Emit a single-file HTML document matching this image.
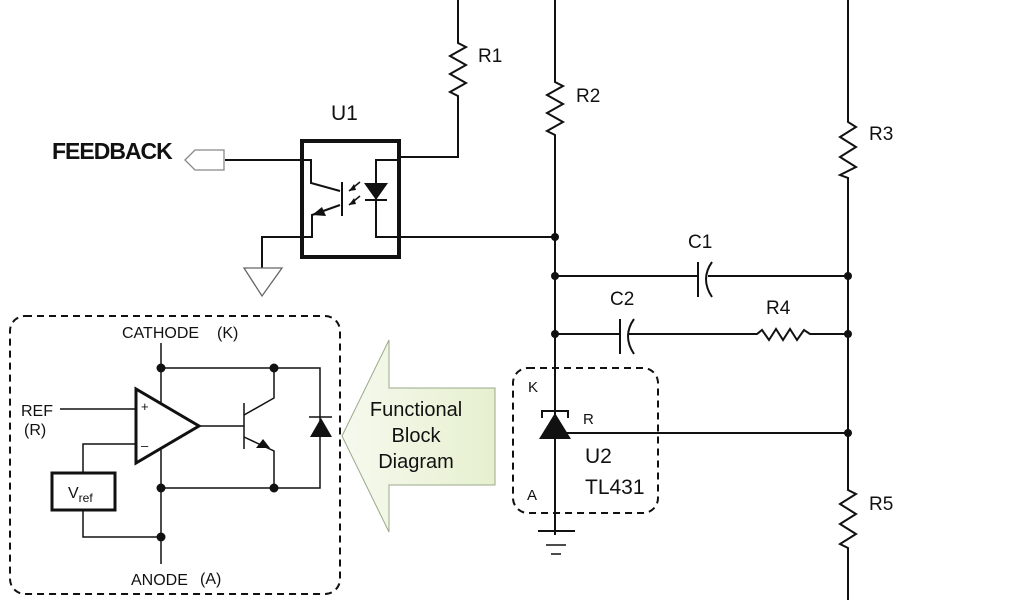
<!DOCTYPE html>
<html><head><meta charset="utf-8"><style>
html,body{margin:0;padding:0;background:#fff;width:1024px;height:600px;overflow:hidden}
svg{display:block}
text{font-family:"Liberation Sans",sans-serif;fill:#111}
</style></head><body>
<svg width="1024" height="600" viewBox="0 0 1024 600" xmlns="http://www.w3.org/2000/svg">
<defs>
<linearGradient id="g" x1="0" x2="1" y1="0" y2="0">
<stop offset="0" stop-color="#f6f9ee"/><stop offset="1" stop-color="#e6f0cf"/>
</linearGradient>
</defs>
<g fill="none" stroke="#111" stroke-width="2">
<polyline points="458,0 458,43 466,47 450,56 466,65 450,74 466,83 450,92 458,96 458,157 400,157"/>
<polyline points="555,0 555,82 563,86 547,95 563,104 547,113 563,122 547,131 555,135 555,535"/>
<polyline points="848,0 848,122 856,127 840,137 856,147 840,157 856,167 840,175 848,178 848,490 856,494 840,504 856,514 840,524 856,534 840,544 848,548 848,600"/>
<rect x="302" y="141" width="97" height="116" stroke-width="4"/>
<polyline points="225,160 311,160 311,183 340,191"/>
<polygon points="185,160 195,150 224,150 224,170 195,170" stroke="#888" stroke-width="1.3"/>
<line x1="342" y1="182" x2="342" y2="216" stroke-width="2"/>
<polyline points="340,205 312,215 312,237 262,237 262,268"/>
<polygon points="244,268 282,268 262,296" stroke="#666" stroke-width="1.3"/>
<polyline points="400,160 376,160 376,237 555,237"/>
<line x1="365" y1="200" x2="387" y2="200"/>
<line x1="360" y1="182" x2="349" y2="191" stroke-width="1.5"/>
<line x1="360" y1="196" x2="349" y2="205" stroke-width="1.5"/>
<line x1="555" y1="276" x2="698" y2="276"/>
<line x1="708" y1="276" x2="848" y2="276"/>
<line x1="698" y1="262" x2="698" y2="297"/>
<path d="M712,262 Q700,279 712,297"/>
<line x1="555" y1="334" x2="620" y2="334"/>
<line x1="620" y1="319" x2="620" y2="354"/>
<path d="M634,319 Q622,336 634,354"/>
<polyline points="628,334 757,334 762,330 769,340 776,329 783,340 790,329 797,340 804,330 810,334 848,334"/>
<line x1="555" y1="433" x2="848" y2="433"/>
<polyline points="542,418 542,411 568,411 568,418"/>
<line x1="538" y1="531" x2="575" y2="531"/>
<line x1="546" y1="545" x2="566" y2="545" stroke-width="1.5"/>
<line x1="551" y1="554" x2="561" y2="554" stroke-width="1.5"/>
<rect x="513" y="368" width="145" height="145" rx="15" stroke-dasharray="7,5"/>
<rect x="10" y="316" width="330" height="278" rx="15" stroke-dasharray="7,5"/>
<line x1="161" y1="343" x2="161" y2="564" stroke-width="1.5"/>
<polyline points="161,368 320,368 320,488 161,488" stroke-width="1.5"/>
<polygon points="136,389 136,463 199,426" stroke-width="3" fill="#fff"/>
<line x1="60" y1="409" x2="136" y2="409" stroke-width="1.5"/>
<polyline points="136,444 83,444 83,473" stroke-width="1.5"/>
<rect x="52" y="473" width="63" height="37" stroke-width="3"/>
<polyline points="83,510 83,537 161,537" stroke-width="1.5"/>
<line x1="199" y1="426" x2="244" y2="426" stroke-width="1.5"/>
<line x1="244" y1="403" x2="244" y2="449" stroke-width="1.5"/>
<polyline points="244,415 274,398 274,368" stroke-width="1.5"/>
<polyline points="244,437 274,451 274,488" stroke-width="1.5"/>
<line x1="309" y1="417" x2="332" y2="417" stroke-width="1.5"/>
</g>
<g fill="#111">
<polygon points="364,183 388,183 376,200"/>
<polygon points="349,191 354,184 356,190"/>
<polygon points="349,205 354,198 356,204"/>
<polygon points="312,215 322,207 326,216"/>
<polygon points="539,439 571,439 555,413"/>
<polygon points="310,437 332,437 321,418"/>
<polygon points="256,448 270,448 263,439"/>
<circle cx="555" cy="237" r="4"/><circle cx="555" cy="276" r="4"/><circle cx="555" cy="334" r="4"/>
<circle cx="848" cy="276" r="4"/><circle cx="848" cy="334" r="4"/><circle cx="848" cy="433" r="4"/>
<circle cx="161" cy="368" r="4.5"/><circle cx="274" cy="368" r="4.5"/><circle cx="161" cy="488" r="4.5"/><circle cx="274" cy="488" r="4.5"/><circle cx="161" cy="537" r="4.5"/>
</g>
<polygon points="389,340 389,388 495,388 495,485 389,485 389,532 342,436" fill="url(#g)" stroke="#9aa88a" stroke-width="1"/>
<text x="52" y="159" font-size="23" font-weight="bold" letter-spacing="-1">FEEDBACK</text>
<text x="331" y="120" font-size="21">U1</text>
<text x="478" y="62" font-size="19">R1</text>
<text x="576" y="102" font-size="19">R2</text>
<text x="869" y="140" font-size="19">R3</text>
<text x="869" y="510" font-size="19">R5</text>
<text x="688" y="248" font-size="19">C1</text>
<text x="610" y="305" font-size="19">C2</text>
<text x="766" y="314" font-size="19">R4</text>
<text x="528" y="392" font-size="15">K</text>
<text x="583" y="424" font-size="15">R</text>
<text x="585" y="463" font-size="21">U2</text>
<text x="585" y="494" font-size="21">TL431</text>
<text x="527" y="500" font-size="15">A</text>
<text x="122" y="338" font-size="16">CATHODE</text>
<text x="217" y="338" font-size="16">(K)</text>
<text x="21" y="416" font-size="16">REF</text>
<text x="24" y="435" font-size="16">(R)</text>
<text x="131" y="585" font-size="16">ANODE</text>
<text x="200" y="584" font-size="16">(A)</text>
<text x="141" y="411" font-size="13">+</text>
<text x="141" y="450" font-size="13">–</text>
<text x="68" y="498" font-size="16">V<tspan font-size="12" dy="4">ref</tspan></text>
<text x="416" y="416" font-size="20" text-anchor="middle">Functional</text>
<text x="416" y="442" font-size="20" text-anchor="middle">Block</text>
<text x="416" y="468" font-size="20" text-anchor="middle">Diagram</text>
</svg>
</body></html>
